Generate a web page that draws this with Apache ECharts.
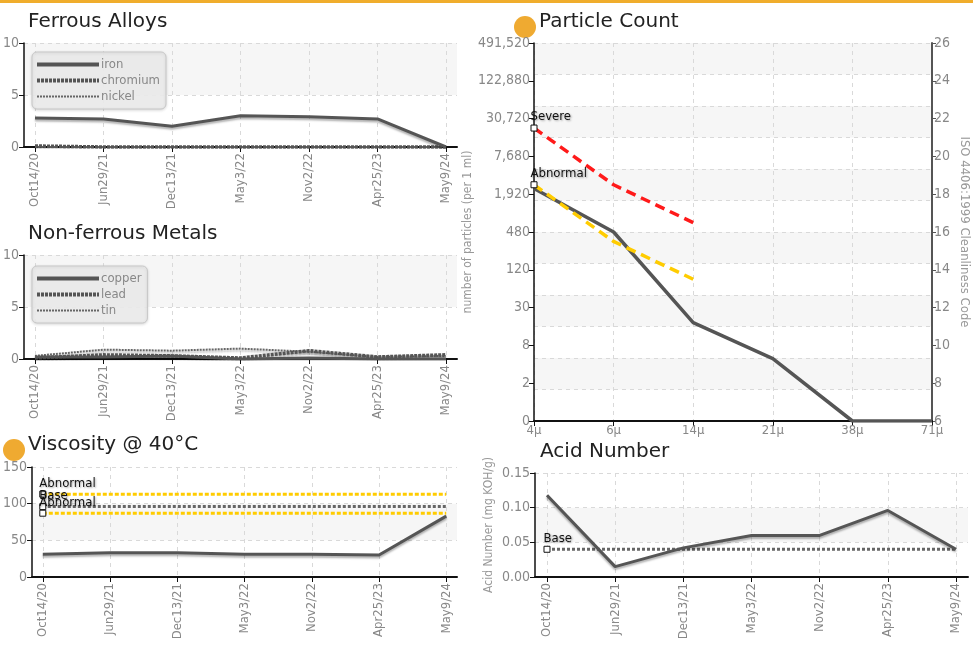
<!DOCTYPE html>
<html>
<head>
<meta charset="utf-8">
<script src="https://cdn.jsdelivr.net/npm/echarts@6/dist/echarts.min.js"></script>
<style>
  html, body { margin: 0; padding: 0; background: #fff; }
  #chart { width: 976px; height: 653px; }
</style>
</head>
<body>
<div id="chart"></div>
<script>
// sample dates shared by the trend panels
const dates = ['Oct14/20', 'Jun29/21', 'Dec13/21', 'May3/22', 'Nov2/22', 'Apr25/23', 'May9/24']

// ferrous alloys (ppm)
const iron = [2.8, 2.7, 2.0, 3.0, 2.9, 2.7, 0]
const chromium = [0.1, 0, 0, 0, 0, 0, 0]
const nickel = [0, 0, 0, 0, 0, 0, 0]

// non-ferrous metals (ppm)
const copper = [0.2, 0.2, 0.3, 0, 0.1, 0, 0]
const lead = [0.1, 0.4, 0.3, 0.1, 0.8, 0.2, 0.4]
const tin = [0.3, 0.9, 0.8, 1.0, 0.7, 0.2, 0.3]

// viscosity @ 40C (cSt)
const viscosity = [31, 33, 33, 31, 31, 30, 83]
const viscAbnormalHigh = [113, 113, 113, 113, 113, 113, 113]
const viscBase = [96, 96, 96, 96, 96, 96, 96]
const viscAbnormalLow = [87, 87, 87, 87, 87, 87, 87]

// acid number (mg KOH/g)
const acid = [0.118, 0.015, 0.042, 0.06, 0.06, 0.096, 0.04]
const acidBase = [0.04, 0.04, 0.04, 0.04, 0.04, 0.04, 0.04]

// particle count, plotted as ISO 4406 codes
const sizes = ['4μ', '6μ', '14μ', '21μ', '38μ', '71μ']
const countLabels = ['0', '2', '8', '30', '120', '480', '1,920', '7,680', '30,720', '122,880', '491,520']
const particleCode = [18.3, 16, 11.2, 9.3, 6, 6]
const severeCode = [21.5, 18.5, 16.5]
const abnormalCode = [18.5, 15.5, 13.5]

const narrow = '"Liberation Sans Narrow", "DejaVu Sans Condensed", "Roboto Condensed", "Liberation Sans", sans-serif'
const titleFont = '"DejaVu Sans", Verdana, sans-serif'
const dateIdx = dates.map((_, i) => i)

const chart = echarts.init(document.getElementById('chart'), null, { renderer: 'canvas' })

function lineShadow(extra) {
  return Object.assign({
    color: '#555',
    width: 3,
    shadowColor: 'rgba(0,0,0,0.3)',
    shadowBlur: 2,
    shadowOffsetY: 2,
  }, extra)
}

function dateXAxis(gridIndex, min, max) {
  return {
    type: 'value',
    gridIndex,
    min,
    max,
    axisLine: { lineStyle: { color: '#111', width: 2 } },
    axisTick: { customValues: dateIdx, length: 5, lineStyle: { color: '#111' } },
    axisLabel: {
      customValues: dateIdx,
      rotate: 90,
      margin: 6,
      color: '#888',
      fontSize: 13,
      fontFamily: narrow,
      formatter: (v) => dates[Math.round(v)],
    },
    splitLine: { show: true, lineStyle: { type: [4, 4], color: '#d9d9d9' } },
  }
}

function valueYAxis(gridIndex, max, interval, formatter) {
  return {
    type: 'value',
    gridIndex,
    min: 0,
    max,
    interval,
    axisLine: { show: true, onZero: false, lineStyle: { color: '#111', width: 1.5 } },
    axisTick: { show: true, length: 5, lineStyle: { color: '#111' } },
    axisLabel: { color: '#888', fontSize: 14, fontFamily: narrow, margin: 5, formatter },
    splitLine: { show: true, lineStyle: { type: [4, 4], color: '#d9d9d9' } },
    splitArea: { show: true, areaStyle: { color: ['rgba(255,255,255,0)', '#f6f6f6'] } },
  }
}

function pairs(values) {
  return values.map((v, i) => [i, v])
}

const markerLabel = {
  show: true,
  position: [0, -14],
  color: '#111',
  fontSize: 13,
  fontFamily: narrow,
  textShadowColor: 'rgba(0,0,0,0.35)',
  textShadowBlur: 2,
  textShadowOffsetX: 1,
  textShadowOffsetY: 1,
}

function firstMarker(values, text, usePairs) {
  return values.map((v, i) => {
    const value = usePairs ? [i, v] : v
    if (i !== 0) {
      return value
    }
    return {
      value,
      symbol: 'rect',
      symbolSize: 6,
      itemStyle: { color: '#fff', borderColor: '#111', borderWidth: 1 },
      label: Object.assign({}, markerLabel, { formatter: text }),
    }
  })
}

function legendBox(left, top, names, styles) {
  return {
    left,
    top,
    orient: 'vertical',
    padding: [6, 6, 6, 3],
    itemGap: 3,
    itemWidth: 62,
    itemHeight: 14,
    backgroundColor: 'rgba(236,236,236,0.9)',
    borderColor: '#c8c8c8',
    borderWidth: 1,
    borderRadius: 5,
    shadowColor: 'rgba(0,0,0,0.15)',
    shadowBlur: 3,
    shadowOffsetY: 1,
    selectedMode: false,
    textStyle: { color: '#888', fontSize: 13, fontFamily: narrow, padding: [0, 0, 0, -3] },
    data: names.map((name, i) => ({
      name,
      lineStyle: styles[i],
      itemStyle: { color: 'rgba(0,0,0,0)', borderWidth: 0, opacity: 0 },
    })),
  }
}

const ironStyle = { color: '#555', width: 4, type: 'solid' }
const chromiumStyle = { color: '#555', width: 4, type: [3, 1] }
const nickelStyle = { color: '#666', width: 2, type: [2, 1] }

const option = {
  animation: false,
  backgroundColor: '#fff',
  textStyle: { fontFamily: narrow },
  graphic: [
    { type: 'rect', shape: { x: 0, y: 0, width: 973, height: 3 }, style: { fill: '#f0ad2c' } },
    { type: 'circle', shape: { cx: 525, cy: 27, r: 11 }, style: { fill: '#efaa31' } },
    { type: 'circle', shape: { cx: 14, cy: 450, r: 11 }, style: { fill: '#efaa31' } },
  ],
  title: [
    { text: 'Ferrous Alloys', left: 28, top: 12 },
    { text: 'Non-ferrous Metals', left: 28, top: 224 },
    { text: 'Viscosity @ 40°C', left: 28, top: 435 },
    { text: 'Particle Count', left: 539, top: 12 },
    { text: 'Acid Number', left: 540, top: 442 },
  ].map((t) => Object.assign(t, {
    padding: 0,
    textStyle: { fontFamily: titleFont, fontSize: 20, fontWeight: 'normal', color: '#222' },
  })),
  legend: [
    legendBox(32, 52, ['iron', 'chromium', 'nickel'], [ironStyle, chromiumStyle, nickelStyle]),
    legendBox(32, 266, ['copper', 'lead', 'tin'], [ironStyle, chromiumStyle, nickelStyle]),
  ],
  grid: [
    { left: 24, top: 43, width: 433, height: 104 },
    { left: 24, top: 255, width: 433, height: 104 },
    { left: 24, top: 467, width: 433, height: 110 },
    { left: 534, top: 43, width: 398, height: 378 },
    { left: 535, top: 473, width: 433, height: 104 },
  ],
  xAxis: [
    dateXAxis(0, -0.16, 6.16),
    dateXAxis(1, -0.16, 6.16),
    dateXAxis(2, -0.16, 6.16),
    {
      type: 'category',
      gridIndex: 3,
      data: sizes,
      boundaryGap: false,
      axisLine: { lineStyle: { color: '#111', width: 2 } },
      axisTick: { alignWithLabel: true, length: 5, lineStyle: { color: '#111' } },
      axisLabel: { color: '#888', fontSize: 13, fontFamily: narrow, margin: 3 },
      splitLine: { show: true, lineStyle: { type: [4, 4], color: '#d9d9d9' } },
    },
    dateXAxis(4, -0.176, 6.176),
  ],
  yAxis: [
    valueYAxis(0, 10, 5),
    valueYAxis(1, 10, 5),
    valueYAxis(2, 150, 50),
    {
      type: 'value',
      gridIndex: 3,
      position: 'left',
      min: 6,
      max: 26,
      interval: 2,
      name: 'number of particles (per 1 ml)',
      nameLocation: 'middle',
      nameGap: 52,
      nameTextStyle: { color: '#999', fontSize: 12, fontFamily: narrow },
      axisLine: { show: true, lineStyle: { color: '#111', width: 1.5 } },
      axisTick: { show: true, length: 5, lineStyle: { color: '#111' } },
      axisLabel: {
        color: '#888',
        fontSize: 14,
        fontFamily: narrow,
        margin: 4,
        formatter: (v) => countLabels[Math.round((v - 6) / 2)],
      },
      splitLine: { show: false },
    },
    {
      type: 'value',
      gridIndex: 3,
      position: 'right',
      min: 6,
      max: 26,
      interval: 2,
      name: 'ISO 4406:1999 Cleanliness Code',
      nameLocation: 'middle',
      nameRotate: -90,
      nameGap: 26,
      nameTextStyle: { color: '#999', fontSize: 13, fontFamily: narrow },
      axisLine: { show: true, lineStyle: { color: '#555', width: 2 } },
      axisTick: { show: true, length: 4, lineStyle: { color: '#555' } },
      axisLabel: { color: '#888', fontSize: 14, fontFamily: narrow, margin: 2 },
      splitLine: { show: false },
    },
    {
      // background bands and horizontal guides only
      type: 'value',
      gridIndex: 3,
      position: 'left',
      min: 0,
      max: 12,
      interval: 1,
      axisLine: { show: false },
      axisTick: { show: false },
      axisLabel: { show: false },
      splitLine: { show: true, lineStyle: { type: [4, 4], color: '#d9d9d9' } },
      splitArea: { show: true, areaStyle: { color: ['rgba(255,255,255,0)', '#f6f6f6'] } },
    },
    Object.assign(valueYAxis(4, 0.15, 0.05, (v) => v.toFixed(2)), {
      name: 'Acid Number (mg KOH/g)',
      nameLocation: 'middle',
      nameGap: 40,
      nameTextStyle: { color: '#999', fontSize: 12, fontFamily: narrow },
    }),
  ],
  series: [
    { name: 'nickel', type: 'line', xAxisIndex: 0, yAxisIndex: 0, symbol: 'none', lineStyle: lineShadow({ width: 2, type: [2, 1], color: '#666' }), data: pairs(nickel) },
    { name: 'chromium', type: 'line', xAxisIndex: 0, yAxisIndex: 0, symbol: 'none', lineStyle: lineShadow({ width: 3.5, type: [3, 1] }), data: pairs(chromium) },
    { name: 'iron', type: 'line', xAxisIndex: 0, yAxisIndex: 0, symbol: 'none', lineStyle: lineShadow(), data: pairs(iron) },

    { name: 'tin', type: 'line', xAxisIndex: 1, yAxisIndex: 1, symbol: 'none', lineStyle: lineShadow({ width: 2, type: [2, 1], color: '#666' }), data: pairs(tin) },
    { name: 'lead', type: 'line', xAxisIndex: 1, yAxisIndex: 1, symbol: 'none', lineStyle: lineShadow({ width: 3.5, type: [3, 1] }), data: pairs(lead) },
    { name: 'copper', type: 'line', xAxisIndex: 1, yAxisIndex: 1, symbol: 'none', lineStyle: lineShadow(), data: pairs(copper) },

    { name: 'Viscosity', type: 'line', xAxisIndex: 2, yAxisIndex: 2, symbol: 'none', lineStyle: lineShadow(), data: pairs(viscosity) },
    { name: 'Visc Abnormal High', type: 'line', xAxisIndex: 2, yAxisIndex: 2, symbol: 'none', showSymbol: true, lineStyle: { color: '#ffcc00', width: 3, type: [4, 2] }, data: firstMarker(viscAbnormalHigh, 'Abnormal', true) },
    { name: 'Visc Base', type: 'line', xAxisIndex: 2, yAxisIndex: 2, symbol: 'none', showSymbol: true, lineStyle: { color: '#666', width: 3, type: [3, 2] }, data: firstMarker(viscBase, 'Base', true) },
    { name: 'Visc Abnormal Low', type: 'line', xAxisIndex: 2, yAxisIndex: 2, symbol: 'none', showSymbol: true, lineStyle: { color: '#ffcc00', width: 3, type: [4, 2] }, data: firstMarker(viscAbnormalLow, 'Abnormal', true) },

    { name: 'Particles', type: 'line', xAxisIndex: 3, yAxisIndex: 4, symbol: 'none', lineStyle: lineShadow({ width: 3.5, shadowBlur: 0, shadowOffsetY: 0 }), data: particleCode },
    { name: 'Severe', type: 'line', xAxisIndex: 3, yAxisIndex: 4, symbol: 'none', showSymbol: true, lineStyle: { color: '#ff1a1a', width: 3.5, type: [10, 6] }, data: firstMarker(severeCode, 'Severe', false) },
    { name: 'Abnormal', type: 'line', xAxisIndex: 3, yAxisIndex: 4, symbol: 'none', showSymbol: true, lineStyle: { color: '#ffcc00', width: 3.5, type: [10, 6] }, data: firstMarker(abnormalCode, 'Abnormal', false) },

    { name: 'Acid Base', type: 'line', xAxisIndex: 4, yAxisIndex: 6, symbol: 'none', showSymbol: true, lineStyle: { color: '#666', width: 3, type: [3, 2] }, data: firstMarker(acidBase, 'Base', true) },
    { name: 'Acid Number', type: 'line', xAxisIndex: 4, yAxisIndex: 6, symbol: 'none', lineStyle: lineShadow(), data: pairs(acid) },
  ],
}

option.series.forEach((s) => {
  s.silent = true
  s.emphasis = { disabled: true }
})

chart.setOption(option)
</script>
</body>
</html>
